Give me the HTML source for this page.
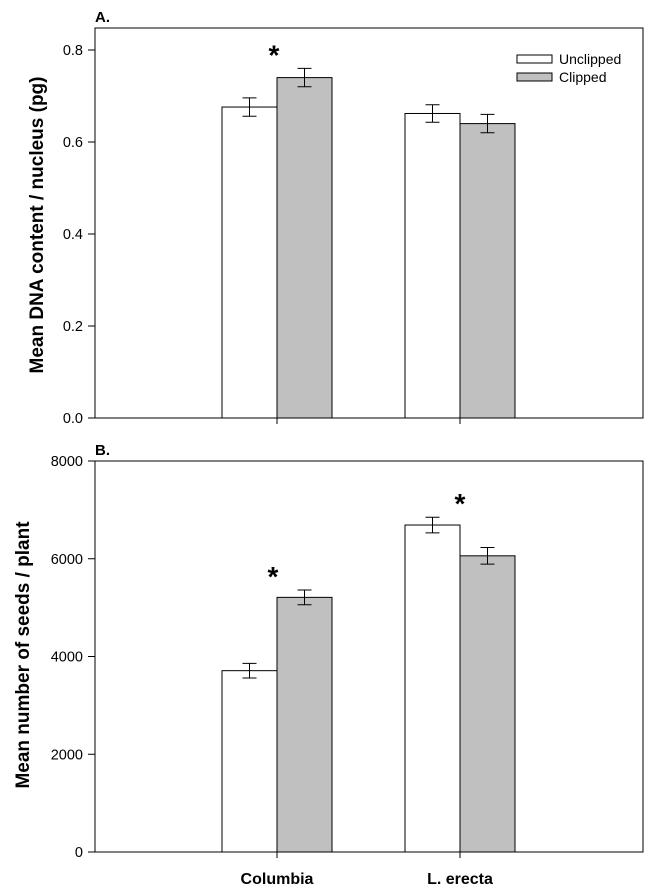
<!DOCTYPE html>
<html><head><meta charset="utf-8">
<style>
body{margin:0;background:#fff;width:651px;height:889px;overflow:hidden}
svg{display:block}
text{font-family:"Liberation Sans",Arial,sans-serif}
</style></head>
<body>
<svg id="chart" width="651" height="889" xmlns="http://www.w3.org/2000/svg"></svg>
<script>
const categories = ["Columbia", "L. erecta"];
const seriesNames = ["Unclipped", "Clipped"];
const dnaUnclipped = [0.676, 0.662];
const dnaClipped = [0.740, 0.640];
const dnaErrU = [0.020, 0.019];
const dnaErrC = [0.020, 0.020];
const seedsUnclipped = [3710, 6690];
const seedsClipped = [5210, 6060];
const seedsErrU = [150, 160];
const seedsErrC = [150, 170];
const dnaTicks = [0.0, 0.2, 0.4, 0.6, 0.8];
const dnaTickLabels = ["0.0", "0.2", "0.4", "0.6", "0.8"];
const seedTicks = [0, 2000, 4000, 6000, 8000];
const seedTickLabels = ["0", "2000", "4000", "6000", "8000"];
const dnaSig = [true, false];
const seedSig = [true, true];

const svg = document.getElementById('chart');
const NS = "http://www.w3.org/2000/svg";
function mk(tag, attrs, parent){const e=document.createElementNS(NS,tag);for(const k in attrs)e.setAttribute(k,attrs[k]);(parent||svg).appendChild(e);return e;}

const L=95, R=643, catX=[277,460], barW=55;
function xCat(i){return catX[i];}

function panel(cfg){
  const g = mk('g',{});
  
  
  const y = v => cfg.y0 - (v - 0) * cfg.scale;
  for(let i=0;i<categories.length;i++){
    [[cfg.u,cfg.eu,'#fff',-1],[cfg.c,cfg.ec,'#c0c0c0',0]].forEach((s,si)=>{
      const x = xCat(i) + s[3]*barW;
      const b = mk('rect',{x:x,y:y(s[0][i]),width:barW,height:cfg.y0-y(s[0][i]),fill:s[2],stroke:'#000','stroke-width':1},g);
      
      
      const cx = x + barW/2, t=y(s[0][i]+s[1][i]), bt=y(s[0][i]-s[1][i]);
      const e = mk('path',{d:`M${cx},${t}V${bt}M${cx-7},${t}H${cx+7}M${cx-7},${bt}H${cx+7}`,stroke:'#000',fill:'none'},g);
      
      
    });
    if(cfg.sig[i]){
      const top = Math.max(cfg.u[i]+cfg.eu[i], cfg.c[i]+cfg.ec[i]);
      const st = mk('text',{x:cfg.sigX[i],y:y(top)-cfg.sigOff,'font-size':28,'font-weight':'bold','text-anchor':'middle'},g);
      st.textContent='*';
      
      
    }
  }
  const fr = mk('rect',{x:L,y:cfg.top,width:R-L,height:cfg.y0-cfg.top,fill:'none',stroke:'#000','stroke-width':1},g);
  
  
  cfg.ticks.forEach((t,k)=>{
    mk('line',{x1:L-7,x2:L,y1:y(t),y2:y(t),stroke:'#000'},g);
    const tl = mk('text',{x:L-12,y:y(t)+5,'font-size':14.5,'text-anchor':'end'},g);
    tl.textContent = cfg.labels[k];
    
    
  });
  categories.forEach((c,i)=>mk('line',{x1:xCat(i),x2:xCat(i),y1:cfg.y0,y2:cfg.y0+6,stroke:'#000'},g));
  const yt = mk('text',{x:0,y:0,'font-size':19,'font-weight':'bold','text-anchor':'middle',transform:`translate(${cfg.titleX},${cfg.titleY}) rotate(-90)`},g);
  yt.textContent = cfg.title;
  
  
  const pl = mk('text',{x:95,y:cfg.top-6,'font-size':15,'font-weight':'bold'},g);
  pl.textContent = cfg.panelLabel;
  
  
}

panel({name:'panel-a',key:'dna',top:28,y0:418,scale:92/0.2,u:dnaUnclipped,c:dnaClipped,eu:dnaErrU,ec:dnaErrC,
  ticks:dnaTicks,labels:dnaTickLabels,sig:dnaSig,sigX:[274,460],sigOff:4,title:'Mean DNA content / nucleus (pg)',titleX:43,titleY:225,panelLabel:'A.'});
panel({name:'panel-b',key:'seeds',top:461,y0:852,scale:391/8000,u:seedsUnclipped,c:seedsClipped,eu:seedsErrU,ec:seedsErrC,
  ticks:seedTicks,labels:seedTickLabels,sig:seedSig,sigX:[273,460],sigOff:4,title:'Mean number of seeds / plant',titleX:29,titleY:655,panelLabel:'B.'});

categories.forEach((c,i)=>{
  const t = mk('text',{x:xCat(i),y:884,'font-size':16,'font-weight':'bold','text-anchor':'middle'});
  t.textContent=c;
  
  
});

const lg = mk('g',{});


[['#fff',55],['#c0c0c0',73]].forEach((s,i)=>{
  mk('rect',{x:517,y:s[1],width:35,height:8,fill:s[0],stroke:'#000'},lg);
  const t = mk('text',{x:559,y:s[1]+9,'font-size':14},lg);
  t.textContent = seriesNames[i];
  
  
});
</script>
</body></html>
